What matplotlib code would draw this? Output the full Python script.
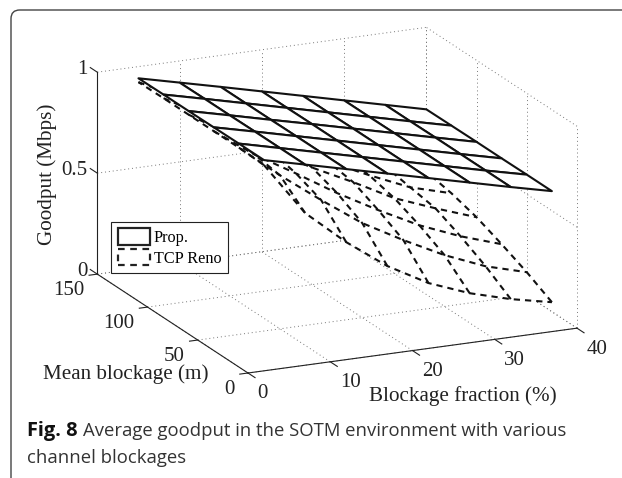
import numpy as np
import matplotlib
matplotlib.use('Agg')
import matplotlib.pyplot as plt
from matplotlib.patches import FancyBboxPatch, Patch
from mpl_toolkits.mplot3d import proj3d

# 数据
blockage_fraction = [5, 10, 15, 20, 25, 30, 35, 40]
mean_blockage = [25, 50, 75, 100, 125, 150]
prop_goodput = [
    [0.945, 0.895, 0.845, 0.795, 0.745, 0.695, 0.645, 0.597],
    [0.945, 0.895, 0.845, 0.795, 0.745, 0.695, 0.645, 0.597],
    [0.944, 0.895, 0.845, 0.795, 0.745, 0.695, 0.645, 0.596],
    [0.943, 0.894, 0.844, 0.795, 0.745, 0.695, 0.645, 0.596],
    [0.943, 0.894, 0.844, 0.794, 0.744, 0.694, 0.644, 0.595],
    [0.942, 0.893, 0.844, 0.794, 0.744, 0.694, 0.644, 0.594],
]
reno_goodput = [
    [0.920, 0.655, 0.483, 0.337, 0.225, 0.147, 0.090, 0.047],
    [0.925, 0.760, 0.610, 0.468, 0.356, 0.254, 0.171, 0.114],
    [0.925, 0.780, 0.660, 0.535, 0.423, 0.320, 0.238, 0.171],
    [0.925, 0.800, 0.690, 0.580, 0.480, 0.373, 0.295, 0.223],
    [0.925, 0.810, 0.710, 0.600, 0.500, 0.405, 0.317, 0.260],
    [0.923, 0.820, 0.720, 0.620, 0.520, 0.420, 0.340, 0.285],
]
x_ticks = [0, 10, 20, 30, 40]
y_ticks = [0, 50, 100, 150]
z_ticks = [0, 0.5, 1]
z_tick_labels = ['0', '0.5', '1']

W, H = 622, 478
plt.rcParams['font.family'] = ['Liberation Serif', 'DejaVu Serif']

fig = plt.figure(figsize=(W / 100, H / 100), dpi=100)
ax = fig.add_axes([0, 0, 1, 1], projection='3d', proj_type='ortho', computed_zorder=False)
ax.view_init(elev=17.4, azim=-114.5)
ax.set_box_aspect((361.7, 363.5, 211.7))
ax.set_xlim(0, 40)
ax.set_ylim(0, 150)
ax.set_zlim(0, 1)
ax.set_axis_off()
ax.patch.set_alpha(0)


def project(x, y, z):
    u, v, _ = proj3d.proj_transform(x, y, z, ax.get_proj())
    return u, v


def to_pixel(x, y, z):
    return ax.transData.transform(project(x, y, z))


# 调整坐标区位置, 让原点和 x 轴末端落到参考图的像素上
fig.canvas.draw()
p0 = to_pixel(0, 0, 0)
p1 = to_pixel(40, 0, 0)
side = min(W, H) * 329 / (p1[0] - p0[0])
ax.set_position([0, 0, side / W, side / H])
fig.canvas.draw()
p0 = to_pixel(0, 0, 0)
ax.set_position([(248 - p0[0]) / W, ((H - 373) - p0[1]) / H, side / W, side / H])
fig.canvas.draw()


def line3d(xs, ys, zs, **kw):
    ax.plot(xs, ys, zs, clip_on=False, **kw)


# 虚线网格
grid = dict(color='#777777', lw=0.7, ls=(0, (1, 3)), zorder=1)
for xt in x_ticks:
    line3d([xt, xt], [0, 150], [0, 0], **grid)
    line3d([xt, xt], [150, 150], [0, 1], **grid)
for yt in y_ticks:
    line3d([0, 40], [yt, yt], [0, 0], **grid)
    line3d([40, 40], [yt, yt], [0, 1], **grid)
for zt in z_ticks:
    line3d([0, 40], [150, 150], [zt, zt], **grid)
    line3d([40, 40], [0, 150], [zt, zt], **grid)

# 两个曲面, 面是白色的, 会挡住后面的线
X, Y = np.meshgrid(blockage_fraction, mean_blockage)
Z_reno = np.array(reno_goodput)
ax.plot_surface(X, Y, Z_reno, color='white', edgecolor='none', linewidth=0, shade=False,
                rstride=1, cstride=1, zorder=2)
ax.plot_wireframe(X, Y, Z_reno, color='#111111', linewidth=1.5, linestyle=(0, (3, 2.4)),
                  rstride=1, cstride=1, zorder=2.5)
ax.plot_surface(X, Y, np.array(prop_goodput), color='white', edgecolor='#111111', linewidth=1.5,
                shade=False, rstride=1, cstride=1, zorder=3)

# 坐标轴和刻度线
axis_style = dict(color='#222222', lw=0.8, zorder=4)
line3d([0, 40], [0, 0], [0, 0], **axis_style)
line3d([0, 0], [0, 150], [0, 0], **axis_style)
line3d([0, 0], [150, 150], [0, 1], **axis_style)
for xt in x_ticks:
    line3d([xt, xt], [0, -7], [0, 0], **axis_style)
for yt in y_ticks:
    line3d([0, -1], [yt, yt], [0, 0], **axis_style)
for zt in z_ticks:
    line3d([0, 0], [150, 157], [zt, zt], **axis_style)


def label_at(text, point, dx, dy, ha='center', va='center'):
    ax.annotate(text, project(*point), xytext=(dx, dy), textcoords='offset pixels', ha=ha, va=va,
                fontsize=15, color='#222222', annotation_clip=False, zorder=5)


for xt in x_ticks:
    label_at(str(xt), (xt, 0, 0), 14 if xt == 0 else 20, -21)
for yt in y_ticks:
    label_at(str(yt), (0, yt, 0), -13, -16, ha='right')
for zt, lab in zip(z_ticks, z_tick_labels):
    label_at(lab, (0, 150, zt), -10, 3, ha='right')


def fig_text(x, y, s, **kw):
    fig.text(x / W, 1 - y / H, s, **kw)


fig_text(47, 174, 'Goodput (Mbps)', rotation=90, ha='center', va='center', fontsize=15.2, color='#222222')
fig_text(126, 374, 'Mean blockage (m)', ha='center', va='center', fontsize=15.2, color='#222222')
fig_text(463, 396, 'Blockage fraction (%)', ha='center', va='center', fontsize=15.2, color='#222222')

# 图例
handles = [Patch(facecolor='white', edgecolor='#222222', lw=1.6),
           Patch(facecolor='white', edgecolor='#222222', lw=1.6, ls=(0, (3, 2.5)))]
leg = fig.legend(handles, ['Prop.', 'TCP Reno'], loc='upper left',
                 bbox_to_anchor=(111 / W, 1 - 222 / H), fontsize=11.7, fancybox=False, framealpha=1,
                 edgecolor='#222222', handlelength=2.03, handleheight=1.15, handletextpad=0.2,
                 labelspacing=0.2, borderpad=0.4, borderaxespad=0)
leg.get_frame().set_linewidth(0.8)
leg.set_zorder(10)

# 图注和外框
cap = dict(family=['Open Sans', 'DejaVu Sans'], fontsize=13.3, color='#333333', va='center')
fig_text(27, 431, 'Fig. 8', fontweight='bold', **{**cap, 'color': '#111111', 'fontsize': 14.4})
fig_text(83, 431, 'Average goodput in the SOTM environment with various', **cap)
fig_text(27, 458, 'channel blockages', **cap)

fig.add_artist(FancyBboxPatch((11 / W, -0.2), 1.2, 0.2 + 1 - 10 / H, transform=fig.transFigure,
                              boxstyle='round,pad=0,rounding_size=0.014', mutation_aspect=W / H,
                              fc='none', ec='#444444', lw=1.0))

fig.savefig('out.png', dpi=100)
